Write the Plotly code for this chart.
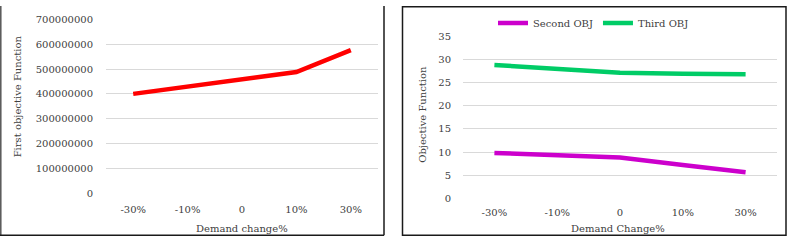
import plotly.graph_objects as go

categories = ["-30%", "-10%", "0", "10%", "30%"]
first_obj = [400000000, 430000000, 459000000, 488000000, 576000000]
second_obj = [9.8, 9.2, 8.8, 7.2, 5.6]
third_obj = [28.9, 28.0, 27.2, 27.0, 26.9]

W, H = 787, 241
FONT = "DejaVu Serif"
TXT = "#404040"
GRID = "#d9d9d9"
BORDER = "#1a1a1a"


def px(x):
    return x / W


def py(y):
    return 1 - y / H


fig = go.Figure()
fig.add_trace(go.Scatter(x=categories, y=first_obj, mode="lines", name="First OBJ",
                         line=dict(color="#ff0000", width=4.5), showlegend=False,
                         xaxis="x", yaxis="y"))
fig.add_trace(go.Scatter(x=categories, y=second_obj, mode="lines", name="Second OBJ",
                         line=dict(color="#cc00cc", width=4.5), xaxis="x2", yaxis="y2"))
fig.add_trace(go.Scatter(x=categories, y=third_obj, mode="lines", name="Third OBJ",
                         line=dict(color="#00cc66", width=4.5), xaxis="x2", yaxis="y2"))

axis_common = dict(showline=False, zeroline=False, ticks="",
                   tickfont=dict(family=FONT, size=10, color=TXT))


def title_ann(text, x, y, angle=0):
    return dict(text=text, x=px(x), y=py(y), xref="paper", yref="paper",
                xanchor="center", yanchor="middle", textangle=angle, showarrow=False,
                font=dict(family=FONT, size=10, color=TXT))


def seg(x0, y0, x1, y1, color=BORDER, width=1.5):
    return dict(type="line", xref="paper", yref="paper", x0=px(x0), y0=py(y0),
                x1=px(x1), y1=py(y1), line=dict(color=color, width=width))


fig.update_layout(
    width=W, height=H,
    margin=dict(l=0, r=0, t=0, b=0),
    paper_bgcolor="white", plot_bgcolor="white",
    font=dict(family=FONT, size=10, color=TXT),
    xaxis=dict(domain=[px(106), px(378)], anchor="y", type="category",
               range=[-0.5, 4.5], showgrid=False, ticklabelstandoff=9, **axis_common),
    yaxis=dict(domain=[py(196.3), py(13.9)], anchor="x", range=[0, 700000000],
               dtick=100000000, tickformat="d", showgrid=True, gridcolor=GRID,
               gridwidth=1, ticklabelstandoff=12, **axis_common),
    xaxis2=dict(domain=[px(463), px(777)], anchor="y2", type="category",
                range=[-0.5, 4.5], showgrid=False, ticklabelstandoff=7, **axis_common),
    yaxis2=dict(domain=[py(201.3), py(32.3)], anchor="x2", range=[0, 35],
                dtick=5, showgrid=True, gridcolor=GRID, gridwidth=1,
                ticklabelstandoff=11, **axis_common),
    legend=dict(orientation="h", x=px(493), y=py(17.7), xanchor="left", yanchor="middle",
                font=dict(family=FONT, size=10, color=TXT), bgcolor="rgba(0,0,0,0)",
                itemwidth=30),
    annotations=[
        title_ann("First objective Function", 17.5, 95.2, -90),
        title_ann("Demand change%", 242, 232.8),
        title_ann("Objective Function", 423, 114, -90),
        title_ann("Demand Change%", 618, 232.8),
    ],
    shapes=[
        # left panel frame (no top edge visible)
        seg(0.8, 0, 0.8, 240.2, color="#555555", width=1.5),
        seg(0, 240.2, 384, 240.2),
        seg(384, 0, 384, 240.2),
        # right panel frame
        dict(type="rect", xref="paper", yref="paper", x0=px(402.5), x1=px(786),
             y0=py(240.2), y1=py(0.8), line=dict(color=BORDER, width=1.5)),
    ],
)

css = "margin:0;padding:0;overflow:hidden;width:787px;height:241px;"
fig.write_html(
    "out.html",
    config={"responsive": False, "displayModeBar": False},
    post_script=("document.documentElement.style.cssText='" + css + "';"
                 "document.body.style.cssText='" + css + "';"),
)
